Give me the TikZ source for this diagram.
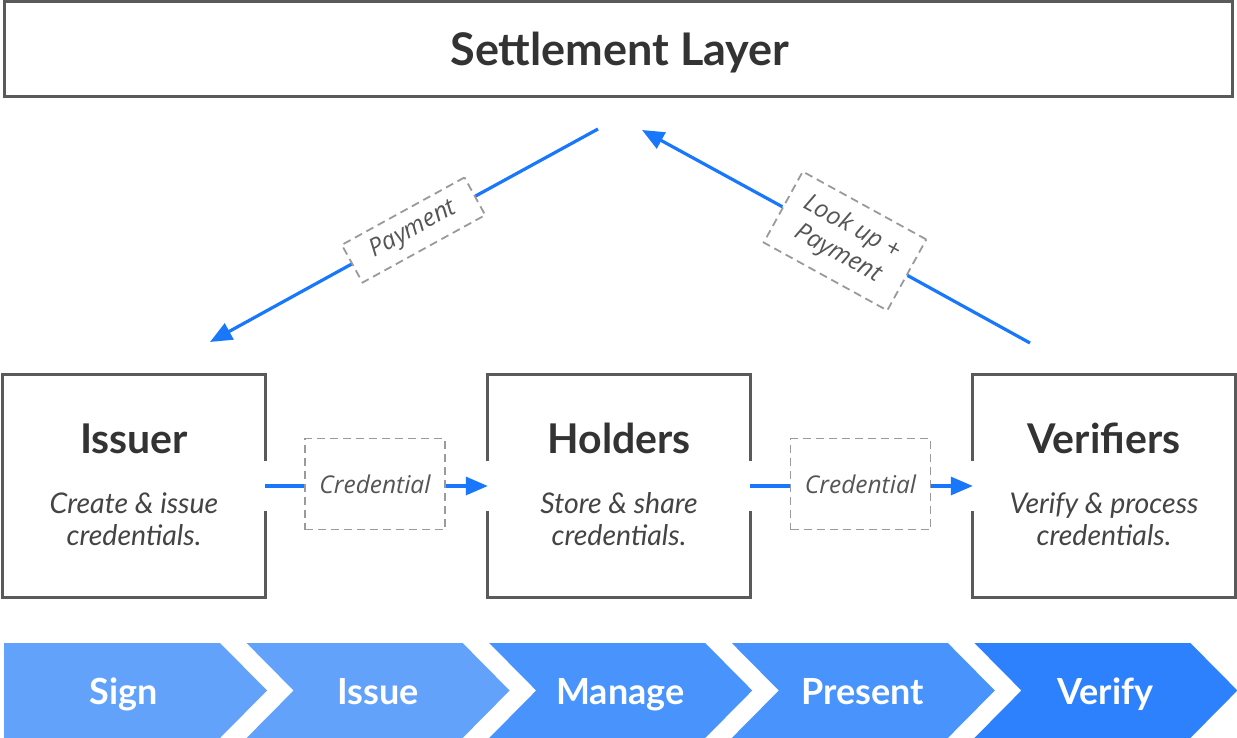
\documentclass[tikz,border=0pt]{standalone}
\usepackage{fontspec}
\setmainfont{Lato}
\newfontfamily\lblfont{Open Sans}
\usetikzlibrary{arrows.meta}

\definecolor{boxgray}{HTML}{5A5A5A}
\definecolor{dashgray}{HTML}{9A9A9A}
\definecolor{txtdark}{HTML}{333333}
\definecolor{txtmid}{HTML}{444444}
\definecolor{txtlbl}{HTML}{555555}
\definecolor{flowblue}{HTML}{1877FB}
\definecolor{stepA}{HTML}{63A2FB}
\definecolor{stepB}{HTML}{4893FC}
\definecolor{stepC}{HTML}{2D81FD}

\tikzset{
  boxline/.style={draw=boxgray, line width=3pt, line join=miter},
  rolebox/.style={minimum width=262pt, minimum height=222pt, inner sep=0pt},
  roletitle/.style={font=\fontsize{41}{44}\selectfont\bfseries, text=txtdark, anchor=base},
  rolesub/.style={font=\fontsize{28.5}{32}\selectfont\itshape, text=txtmid, align=center},
  lblbox/.style={draw=dashgray, line width=1.8pt, dash pattern=on 8pt off 5pt,
                 fill=white, inner sep=0pt, text=txtlbl, align=center,
                 font=\lblfont\itshape\fontsize{24.5}{30}\selectfont},
  flow/.style={draw=flowblue, line width=3.2pt},
  flowtip/.style={flow, -{Triangle[length=22pt,width=18pt]}},
  steptext/.style={font=\fontsize{36}{40}\selectfont\bfseries, text=white, anchor=base}
}

\begin{document}
\begin{tikzpicture}[x=1pt,y=-1pt]
\useasboundingbox (0,0) rectangle (1237,738);

% settlement layer
\node[draw=boxgray, line width=3pt, minimum width=1228pt, minimum height=95pt,
      inner sep=0pt] (settle) at (618.5,49.5) {};
\node[font=\fontsize{45}{48}\selectfont\bfseries, text=txtdark, anchor=base]
      (settle-t) at (620,66) {Settlement Layer};

% role boxes (borders drawn below, open where the credential flow passes)
\node[rolebox] (iss) at (134,486) {};
\node[rolebox] (hol) at (619,486) {};
\node[rolebox] (ver) at (1104,486) {};

\draw[boxline] ([yshift=25pt]iss.east) -- (iss.north east) -- (iss.north west)
  -- (iss.south west) -- (iss.south east) -- ([yshift=-25pt]iss.east);
\draw[boxline] ([yshift=25pt]hol.west) -- (hol.north west) -- (hol.north east)
  -- ([yshift=25pt]hol.east);
\draw[boxline] ([yshift=-25pt]hol.west) -- (hol.south west) -- (hol.south east)
  -- ([yshift=-25pt]hol.east);
\draw[boxline] ([yshift=25pt]ver.west) -- (ver.north west) -- (ver.north east)
  -- (ver.south east) -- (ver.south west) -- ([yshift=-25pt]ver.west);

\node[roletitle] (iss-t) at (134,453) {Issuer};
\node[rolesub]   (iss-s) at (134,519) {Create \& issue\\credentials.};
\node[roletitle] (hol-t) at (619,453) {Holders};
\node[rolesub]   (hol-s) at (619,519) {Store \& share\\credentials.};
\node[roletitle] (ver-t) at (1104,453) {Verifiers};
\node[rolesub]   (ver-s) at (1104,519) {Verify \& process\\credentials.};

% credential hand-offs
\node[lblbox, minimum width=140pt, minimum height=91pt] (cr1) at (375,484) {Credential};
\node[lblbox, minimum width=140pt, minimum height=91pt] (cr2) at (860.5,484) {Credential};

\draw[flow] (iss.east) -- (iss.east -| cr1.west);
\draw[flowtip] (cr1.east |- hol.west) -- (hol.west);
\draw[flow] (hol.east) -- (hol.east -| cr2.west);
\draw[flowtip] (cr2.east |- ver.west) -- (ver.west);

% payments to and from the settlement layer
\coordinate (payS) at (598,129);
\coordinate (payE) at (210,342);
\coordinate (lkS) at (1030,343);
\coordinate (lkE) at (642,130);

\node[lblbox, rotate=28.8, minimum width=140pt, minimum height=43pt] (pay) at (413.5,230) {Payment};
\node[lblbox, rotate=-28.8, minimum width=141pt, minimum height=81pt] (lk) at (845,241) {Look up +\\Payment};

\draw[flow] (payS) -- (pay);
\draw[flowtip] (pay) -- (payE);
\draw[flow] (lkS) -- (lk);
\draw[flowtip] (lk) -- (lkE);

% process steps
\def\pitch{242.6}
\fill[stepA] (4,643) -- (220,643) -- (267,690.5) -- (220,738) -- (4,738) -- cycle;
\foreach \k/\col in {1/stepA, 2/stepB, 3/stepB, 4/stepC}{
  \pgfmathsetmacro\tl{4+\pitch*\k}
  \fill[\col] (\tl,643) -- (\tl+216,643) -- (\tl+263,690.5) -- (\tl+216,738)
     -- (\tl,738) -- (\tl+47,690.5) -- cycle;
}
\node[steptext] (s1) at (124,704) {Sign};
\node[steptext] (s2) at (378,704) {Issue};
\node[steptext] (s3) at (620.5,704) {Manage};
\node[steptext] (s4) at (863,704) {Present};
\node[steptext] (s5) at (1105.5,704) {Verify};
\end{tikzpicture}
\end{document}
